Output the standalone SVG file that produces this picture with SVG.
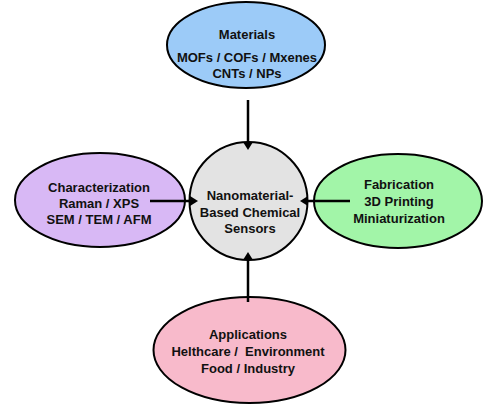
<svg xmlns="http://www.w3.org/2000/svg" width="500" height="411" viewBox="0 0 500 411">
<defs>
<style>
.node { stroke: #000; stroke-width: 2; }
.t { font-family: "Liberation Sans", Arial, sans-serif; font-weight: bold; font-size: 13px; fill: #111; text-anchor: middle; white-space: pre; }
.conn { stroke: #000; stroke-width: 2.5; fill: none; marker-end: url(#ah); }
</style>
<marker id="ah" markerUnits="userSpaceOnUse" markerWidth="8" markerHeight="10" refX="2" refY="5" orient="auto" viewBox="0 0 8 10">
<path d="M0,0 L8,5 L0,10 z" fill="#000"/>
</marker>
</defs>
<rect width="500" height="411" fill="#fff"/>
<g id="materials">
<ellipse class="node" cx="246" cy="45" rx="79" ry="43" fill="#9CCBF8"/>
<text class="t" x="247" y="38.5">Materials</text>
<text class="t" x="247" y="61.5">MOFs / COFs / Mxenes</text>
<text class="t" x="247" y="77.5">CNTs / NPs</text>
</g>
<g id="sensors">
<circle class="node" cx="248.5" cy="201" r="59" fill="#E3E3E3"/>
<text class="t" x="250" y="199.5">Nanomaterial-</text>
<text class="t" x="250" y="216.5">Based Chemical</text>
<text class="t" x="250" y="232.5">Sensors</text>
</g>
<g id="characterization">
<ellipse class="node" cx="100" cy="200" rx="85" ry="47" fill="#D8B8F5"/>
<text class="t" x="99" y="191.5">Characterization</text>
<text class="t" x="99" y="207.5">Raman / XPS</text>
<text class="t" x="99" y="223.5">SEM / TEM / AFM</text>
</g>
<g id="fabrication">
<ellipse class="node" cx="398" cy="201" rx="84" ry="47" fill="#A2F5A8"/>
<text class="t" x="399" y="188.5">Fabrication</text>
<text class="t" x="399" y="205.5">3D Printing</text>
<text class="t" x="399" y="222.5">Miniaturization</text>
</g>
<g id="applications">
<ellipse class="node" cx="249.5" cy="350" rx="96" ry="53" fill="#F8BACB"/>
<text class="t" x="248" y="338.5">Applications</text>
<text class="t" x="248" y="355.5">Helthcare /  Environment</text>
<text class="t" x="248" y="372.5">Food / Industry</text>
</g>
<g id="connectors">
<line class="conn" x1="248" y1="100" x2="248" y2="144"/>
<line class="conn" x1="150" y1="201" x2="192" y2="201"/>
<line class="conn" x1="350" y1="201" x2="306" y2="201"/>
<line class="conn" x1="248" y1="302" x2="248" y2="258"/>
</g>
</svg>
